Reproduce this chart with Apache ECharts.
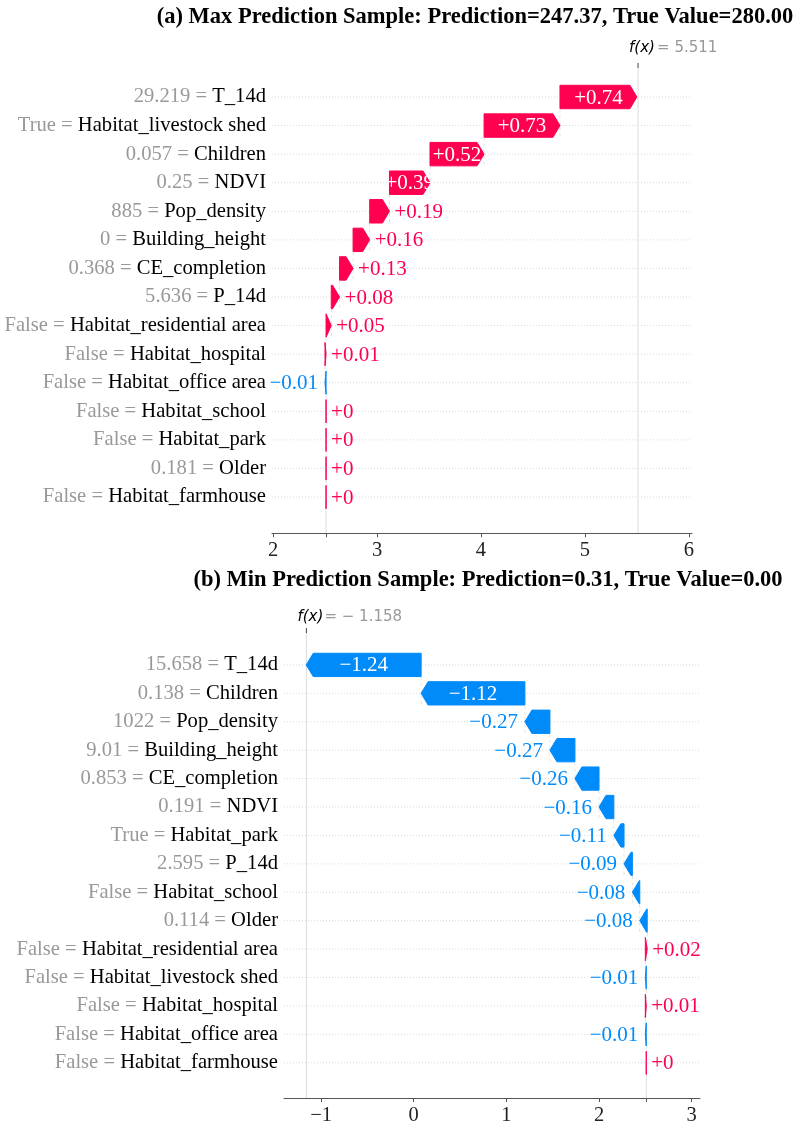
<!DOCTYPE html>
<html><head><meta charset="utf-8">
<script src="https://cdn.jsdelivr.net/npm/echarts@6/dist/echarts.min.js"></script>
<style>html,body{margin:0;padding:0;background:#fff}#c{width:797px;height:1126px}</style>
</head><body><div id="c"></div>
<script>
// ---------- data ----------
const titleA = '(a) Max Prediction Sample: Prediction=247.37, True Value=280.00';
const featuresA = ['T_14d','Habitat_livestock shed','Children','NDVI','Pop_density','Building_height','CE_completion','P_14d','Habitat_residential area','Habitat_hospital','Habitat_office area','Habitat_school','Habitat_park','Older','Habitat_farmhouse'];
const featureValuesA = ['29.219','True','0.057','0.25','885','0','0.368','5.636','False','False','False','False','False','0.181','False'];
const shapA = [0.74,0.73,0.52,0.39,0.19,0.16,0.13,0.08,0.05,0.01,-0.01,0,0,0,0];
const baseA = 2.51;
const fxA = 5.511;
const tickLabelsA = [2,3,4,5,6];

const titleB = '(b) Min Prediction Sample: Prediction=0.31, True Value=0.00';
const featuresB = ['T_14d','Children','Pop_density','Building_height','CE_completion','NDVI','Habitat_park','P_14d','Habitat_school','Older','Habitat_residential area','Habitat_livestock shed','Habitat_hospital','Habitat_office area','Habitat_farmhouse'];
const featureValuesB = ['15.658','0.138','1022','9.01','0.853','0.191','True','2.595','False','0.114','False','False','False','False','False'];
const shapB = [-1.24,-1.12,-0.27,-0.27,-0.26,-0.16,-0.11,-0.09,-0.08,-0.08,0.02,-0.01,0.01,-0.01,0];
const baseB = 2.51;
const fxB = -1.158;
const tickLabelsB = [-1,0,1,2,3];

// ---------- helpers ----------
const POS = '#ff0051', NEG = '#008bfb';
const SERIF = '"Liberation Serif","Times New Roman",serif';
const SANS = '"DejaVu Sans",sans-serif';
const BAR_FONT = '21px ' + SERIF;

function fmt(v){
  const r = Math.round(v*100)/100;
  if (r === 0) return v < 0 ? '\u22120' : '+0';
  return (r > 0 ? '+' : '\u2212') + Math.abs(r).toString();
}
function fmtFx(v){
  return v < 0 ? '= \u2212 ' + Math.abs(v).toFixed(3) : '= ' + v.toFixed(3);
}
function cumul(shap, base){
  const n = shap.length, out = [];
  let cur = base;
  for (let i = n-1; i >= 0; i--) { const s = cur; cur += shap[i]; out[i] = [i, s, cur, shap[i]]; }
  return out;
}

function panelSeries(k, shap, base, fx, lay){
  const n = shap.length;
  const grid = {
    type:'custom', xAxisIndex:k, yAxisIndex:k, silent:true, z:1,
    data: shap.map((v,i)=>[i]),
    renderItem(params, api){
      const cs = params.coordSys;
      const y = api.coord([0, api.value(0)])[1];
      return {type:'line', shape:{x1:cs.x, y1:y, x2:cs.x+cs.width, y2:y},
        style:{stroke:'#dadada', lineWidth:1, lineDash:[1,2]}};
    }
  };
  const bars = {
    type:'custom', xAxisIndex:k, yAxisIndex:k, silent:true, z:3,
    data: cumul(shap, base),
    renderItem(params, api){
      const i = api.value(0), s = api.value(1), e = api.value(2), v = api.value(3);
      const a = api.coord([s, i]), b = api.coord([e, i]);
      const band = api.size([0, 1])[1];
      const h = band*0.82, yt = a[1]-h/2, yb = a[1]+h/2, ym = a[1];
      const len = b[0]-a[0];
      const dir = v >= 0 ? 1 : -1;
      const hl = Math.min(Math.abs(len), 7)*dir;
      const col = v >= 0 ? POS : NEG;
      const children = [];
      if (i < n-1) {
        children.push({type:'line', z2:0, shape:{x1:a[0], y1:yt, x2:a[0], y2:ym+band+h/2},
          style:{stroke:'#d0d0d0', lineWidth:0.6, lineDash:[3,3]}});
      }
      children.push({type:'polygon', z2:1,
        shape:{points:[[a[0],yt],[b[0]-hl,yt],[b[0],ym],[b[0]-hl,yb],[a[0],yb]]},
        style:{fill:col, stroke:col, lineWidth:1}});
      const txt = fmt(v);
      if (Math.abs(len) > 38) {
        children.push({type:'text', z2:2, x:(a[0]+b[0])/2, y:ym+1,
          style:{text:txt, fill:'#fff', font:BAR_FONT, align:'center', verticalAlign:'middle'}});
      } else if (dir > 0) {
        children.push({type:'text', z2:2, x:b[0]+5, y:ym+1,
          style:{text:txt, fill:POS, font:BAR_FONT, align:'left', verticalAlign:'middle'}});
      } else {
        children.push({type:'text', z2:2, x:b[0]-7, y:ym+1,
          style:{text:txt, fill:NEG, font:BAR_FONT, align:'right', verticalAlign:'middle'}});
      }
      return {type:'group', children};
    }
  };
  const fxs = {
    type:'custom', xAxisIndex:k, yAxisIndex:k, silent:true, z:0,
    data:[[fx, base]],
    renderItem(params, api){
      const cs = params.coordSys;
      const xf = api.coord([api.value(0), 0])[0];
      const xb = api.coord([api.value(1), 0])[0];
      const axisY = cs.y + cs.height + lay.offset;
      const top = lay.axesTop;
      return {type:'group', children:[
        {type:'line', shape:{x1:xf, y1:top, x2:xf, y2:axisY}, style:{stroke:'#dcdcdc', lineWidth:1}},
        {type:'line', shape:{x1:xf, y1:top-5, x2:xf, y2:top}, style:{stroke:'#444', lineWidth:1}},
        {type:'line', shape:{x1:xb, y1:axisY-(axisY-top)/n, x2:xb, y2:axisY}, style:{stroke:'#dcdcdc', lineWidth:1}},
        {type:'text', x:xf-9, y:lay.labelY, style:{text:'f(x)', fill:'#000', font:'italic 15px '+SANS, align:'left', verticalAlign:'middle'}},
        {type:'text', x:xf+lay.eqDx, y:lay.labelY, style:{text:fmtFx(api.value(0)), fill:'#999', font:'15px '+SANS, align:'left', verticalAlign:'middle'}}
      ]};
    }
  };
  return [grid, fxs, bars];
}

function yAxisFor(k, names, vals){
  return {
    gridIndex:k, type:'category', inverse:true, data:names,
    axisLine:{show:false}, axisTick:{show:false}, splitLine:{show:false},
    axisLabel:{
      interval:0, margin:6,
      formatter:(val, idx)=>'{v|'+vals[idx]+' = }{n|'+val+'}',
      rich:{
        v:{color:'#999', fontFamily:SERIF, fontSize:20.6},
        n:{color:'#000', fontFamily:SERIF, fontSize:20.6}
      }
    }
  };
}
function xAxisFor(k, min, max, labels, base, offset){
  return {
    gridIndex:k, type:'value', min, max, offset,
    axisLine:{show:true, lineStyle:{color:'#555', width:1}},
    axisTick:{show:true, length:4, lineStyle:{color:'#555'}, customValues:labels.concat([base]).sort((p,q)=>p-q)},
    axisLabel:{customValues:labels, color:'#222', fontFamily:SERIF, fontSize:20.5, margin:7,
      formatter:v=>(v<0?'\u2212':'')+Math.abs(v)},
    splitLine:{show:false}
  };
}

const chart = echarts.init(document.getElementById('c'), null, {renderer:'canvas'});
const rowH = 400/14;
const option = {
  backgroundColor:'#fff',
  animation:false,
  title:[
    {text:titleA, left:470, top:1, textAlign:'center',
      textStyle:{fontFamily:SERIF, fontWeight:'bold', fontSize:22.5, color:'#000'}},
    {text:titleB, left:483, top:564, textAlign:'center',
      textStyle:{fontFamily:SERIF, fontWeight:'bold', fontSize:22.5, color:'#000'}}
  ],
  grid:[
    {left:272, width:420, top:97-rowH/2, height:rowH*15},
    {left:284, width:416, top:665-rowH/2, height:rowH*15}
  ],
  xAxis:[
    xAxisFor(0, 1.99, 6.03, tickLabelsA, baseA, 22),
    xAxisFor(1, -1.4, 3.09, tickLabelsB, baseB, 21)
  ],
  yAxis:[
    yAxisFor(0, featuresA, featureValuesA),
    yAxisFor(1, featuresB, featureValuesB)
  ],
  series:[].concat(
    panelSeries(0, shapA, baseA, fxA, {offset:22, axesTop:68, labelY:48, eqDx:19}),
    panelSeries(1, shapB, baseB, fxB, {offset:21, axesTop:633, labelY:617, eqDx:18})
  )
};
chart.setOption(option);
</script></body></html>
